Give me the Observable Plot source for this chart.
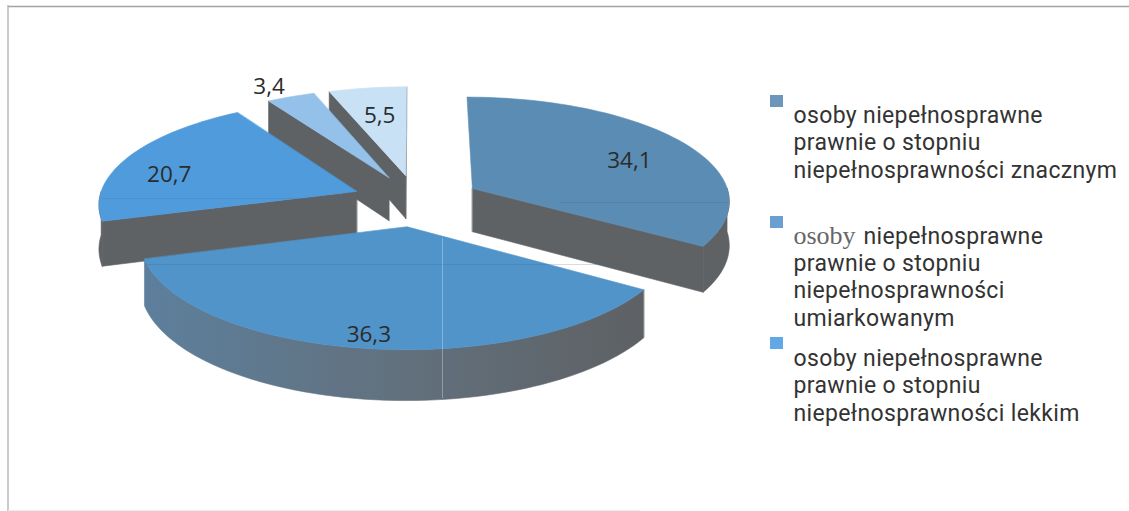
<!DOCTYPE html>
<html lang="pl">
<head>
<meta charset="utf-8">
<script src="https://cdn.jsdelivr.net/npm/d3@7"></script>
<script src="https://cdn.jsdelivr.net/npm/@observablehq/plot@0.6"></script>
<style>html,body{margin:0;padding:0;background:#fff;overflow:hidden}svg{display:block}.legend-text text{letter-spacing:.35px}</style>
</head>
<body>
<div id="chart"></div>
<script>
// --- data ---
const labels = ["34,1", "36,3", "20,7", "3,4", "5,5"];
const values = [34.1, 36.3, 20.7, 3.4, 5.5];
const topColors = ["#5b8cb3", "#5094c9", "#4f9bdc", "#94c1ea", "#c9e1f5"];
const legendColors = ["#6c97ba", "#6a9fd2", "#62a8e6"];
const legendBlocks = [
  "osoby niepełnosprawne\nprawnie o stopniu\nniepełnosprawności znacznym",
  "prawnie o stopniu\nniepełnosprawności\numiarkowanym",
  "osoby niepełnosprawne\nprawnie o stopniu\nniepełnosprawności lekkim"
];
const legendHead = ["osoby", "niepełnosprawne"];

// --- layout of the perspective pie ---
const W = 1129, H = 511;
const cx = 416, cy = 200, rx = 258, ry = 103.5, k = 0.108, depth = 44, explode = 0.25;
const labelRadius = [0.70, 0.9, 0.77, 1.15, 0.66];
const labelTurn = [5, 0, -8, -2, 0];
const wallGray = "#5f6264";
const rad = d => d * Math.PI / 180;
const proj = (u, v, z = 0) => {
  const s = 1 / (1 - k * v);
  return {x: cx + rx * u * s, y: cy + (ry * v + depth * z) * s};
};

let cum = 0;
const slices = values.map((val, i) => {
  const a0 = cum / 100 * 360; cum += val;
  const a1 = cum / 100 * 360, mid = (a0 + a1) / 2;
  return {i, a0, a1, mid, ox: explode * Math.sin(rad(mid)), oy: -explode * Math.cos(rad(mid))};
});
const rim = (s, a, z = 0) => proj(s.ox + Math.sin(rad(a)), s.oy - Math.cos(rad(a)), z);
const apex = (s, z = 0) => proj(s.ox, s.oy, z);
const arc = (s, a0, a1, z = 0) => {
  const n = Math.max(2, Math.ceil((a1 - a0) / 2));
  return d3.range(n + 1).map(j => rim(s, a0 + (a1 - a0) * j / n, z));
};

// polygons in painting order: far slices first
const layers = {back: [], nearWall: [], nearTop: []};
let nextId = 0;
const add = (layer, pts, color) => {
  const id = nextId++;
  pts.forEach(p => layers[layer].push({...p, id, color}));
};
for (const i of [4, 3, 2, 0, 1]) {
  const s = slices[i];
  const near = i === 1;
  // radial faces turned towards the viewer
  if (Math.sin(rad(s.a1)) > 0) add(near ? "nearWall" : "back", [apex(s), rim(s, s.a1), rim(s, s.a1, 1), apex(s, 1)], wallGray);
  if (Math.sin(rad(s.a0)) < 0) add(near ? "nearWall" : "back", [apex(s), rim(s, s.a0), rim(s, s.a0, 1), apex(s, 1)], wallGray);
  // outer wall on the near half
  const from = Math.max(s.a0, 90), to = Math.min(s.a1, 270);
  if (to > from) add(near ? "nearWall" : "back", [...arc(s, from, to), ...arc(s, from, to, 1).reverse()], wallGray);
  // top surface
  add(near ? "nearTop" : "back", [apex(s), ...arc(s, s.a0, s.a1)], topColors[i]);
}
const polygon = (data, fill) => Plot.line(data, {x: "x", y: "y", z: "id", curve: "linear-closed",
  fill, stroke: fill, strokeWidth: 0.6});

const valueLabels = slices.map(s => {
  const a = rad(s.mid + labelTurn[s.i]), r = labelRadius[s.i];
  return {text: labels[s.i], ...proj(s.ox + r * Math.sin(a), s.oy - r * Math.cos(a))};
});

// --- legend layout ---
const legendX = 793, headX = 863, swatchX = 770, swatchSize = 13;
const legendLastBaseline = [177, 325, 420], lineEm = 1.195, swatchTop = [95, 216, 337];
const legendRows = legendBlocks.map((text, g) => ({text, x: legendX, y: legendLastBaseline[g]}));
const swatches = legendColors.map((color, g) => ({color, y: swatchTop[g]}));

// gradient of the near slice's outer wall: blue-grey on the left, grey on the right
const wallGradient = () => {
  const defs = d3.create("svg:defs");
  const g = defs.append("linearGradient").attr("id", "nearWallShade");
  [[0, "#5d7f9c"], [0.5, "#62717e"], [1, "#5e6164"]].forEach(([o, c]) =>
    g.append("stop").attr("offset", o).attr("stop-color", c));
  return defs.node();
};

const legendFont = {fontFamily: "Roboto, sans-serif", fontSize: 23, fill: "#333", className: "legend-text",
  textAnchor: "start", lineAnchor: "bottom"};

const chart = Plot.plot({
  width: W, height: H, margin: 0,
  x: {domain: [0, W], range: [0, W], axis: null},
  y: {domain: [0, H], range: [0, H], axis: null},
  style: {background: "#fff", fontFamily: "'Open Sans', sans-serif"},
  marks: [
    wallGradient,
    Plot.ruleY([6], {x1: 8, x2: W, stroke: "#a3a3a3", strokeWidth: 1.6}),
    Plot.ruleX([7.5], {y1: 5, y2: H, stroke: "#b5b5b5", strokeWidth: 1.4}),
    Plot.ruleY([510], {x1: 8, x2: 640, stroke: "#ececec", strokeWidth: 1}),
    polygon(layers.back, "color"),
    polygon(layers.nearWall, "url(#nearWallShade)"),
    polygon(layers.nearTop, "color"),
    // scan creases across the slices
    Plot.ruleY([198], {x1: 102, x2: 356, stroke: "#3f6f9c", strokeOpacity: 0.25}),
    Plot.ruleY([202], {x1: 560, x2: 727, stroke: "#3f5f7c", strokeOpacity: 0.25}),
    Plot.ruleY([264], {x1: 147, x2: 620, stroke: "#2f6a9c", strokeOpacity: 0.22}),
    Plot.ruleX([442], {y1: 238, y2: 398, stroke: "#cfe3f3", strokeOpacity: 0.4}),
    Plot.text(valueLabels, {x: "x", y: "y", text: "text", fill: "#2b2b2b", fontSize: 22.5,
      textAnchor: "middle", lineAnchor: "middle"}),
    Plot.rect(swatches, {x1: swatchX, x2: swatchX + swatchSize,
      y1: "y", y2: d => d.y + swatchSize - 1, fill: "color"}),
    Plot.text(legendRows, {x: "x", y: "y", text: "text", lineHeight: lineEm, ...legendFont}),
    Plot.text([legendHead[1]], {x: headX, y: 243, text: d => d, ...legendFont}),
    Plot.text([legendHead[0]], {x: legendX, y: 238, text: d => d, fill: "#666",
      fontFamily: "'Liberation Serif', serif", fontSize: 26,
      textAnchor: "start", lineAnchor: "bottom", dy: 5})
  ]
});
document.getElementById("chart").append(chart);
</script>
</body>
</html>
